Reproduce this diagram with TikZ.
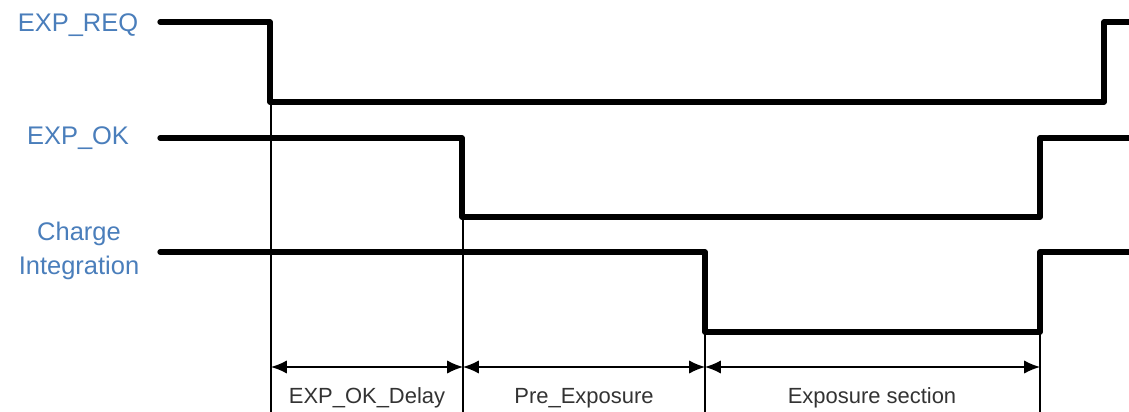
\documentclass[tikz,border=0pt]{standalone}
\usepackage{fontspec}
\setmainfont{Liberation Sans}
\usetikzlibrary{arrows.meta}
\definecolor{sigblue}{RGB}{74,126,187}

\begin{document}
\begin{tikzpicture}[x=0.02cm,y=-0.02cm,>={Latex[length=9pt,width=7.5pt]},
  signal/.style={line width=3pt, line join=round, line cap=round},
  guide/.style={line width=0.6pt},
  span/.style={<->, line width=0.8pt},
  siglabel/.style={text=sigblue, font=\fontsize{14.5}{19.8}\selectfont, align=center},
  spanlabel/.style={text=black!80, font=\fontsize{12.5}{14}\selectfont}]
\useasboundingbox (0,0) rectangle (1129,412);
% signal names
\node[siglabel] (req) at (78,25) {EXP\_REQ};
\node[siglabel] (ok) at (78,138) {EXP\_OK};
\node[siglabel] (charge) at (79,251) {Charge\\Integration};
% waveforms
\draw[signal] (160,22) -- (270,22) -- (270,102) -- (1104,102) -- (1104,22) -- (1135,22);
\draw[signal] (160,138) -- (462,138) -- (462,217) -- (1040,217) -- (1040,138) -- (1135,138);
\draw[signal] (160,252) -- (705,252) -- (705,332) -- (1040,332) -- (1040,252) -- (1135,252);
% timing marks
\coordinate (t1) at (271,367);
\coordinate (t2) at (463,367);
\coordinate (t3) at (705,367);
\coordinate (t4) at (1040,367);
\draw[guide] (271,102) -- (271,412);
\draw[guide] (463,217) -- (463,412);
\draw[guide] (705,332) -- (705,412);
\draw[guide] (1040,332) -- (1040,412);
\draw[span] (t1) -- (t2);
\draw[span] (t2) -- (t3);
\draw[span] (t3) -- (t4);
\node[spanlabel] (delay) at (367,398) {EXP\_OK\_Delay};
\node[spanlabel] (pre) at (584,398) {Pre\_Exposure};
\node[spanlabel] (expo) at (872,398) {Exposure section};
\end{tikzpicture}
\end{document}
